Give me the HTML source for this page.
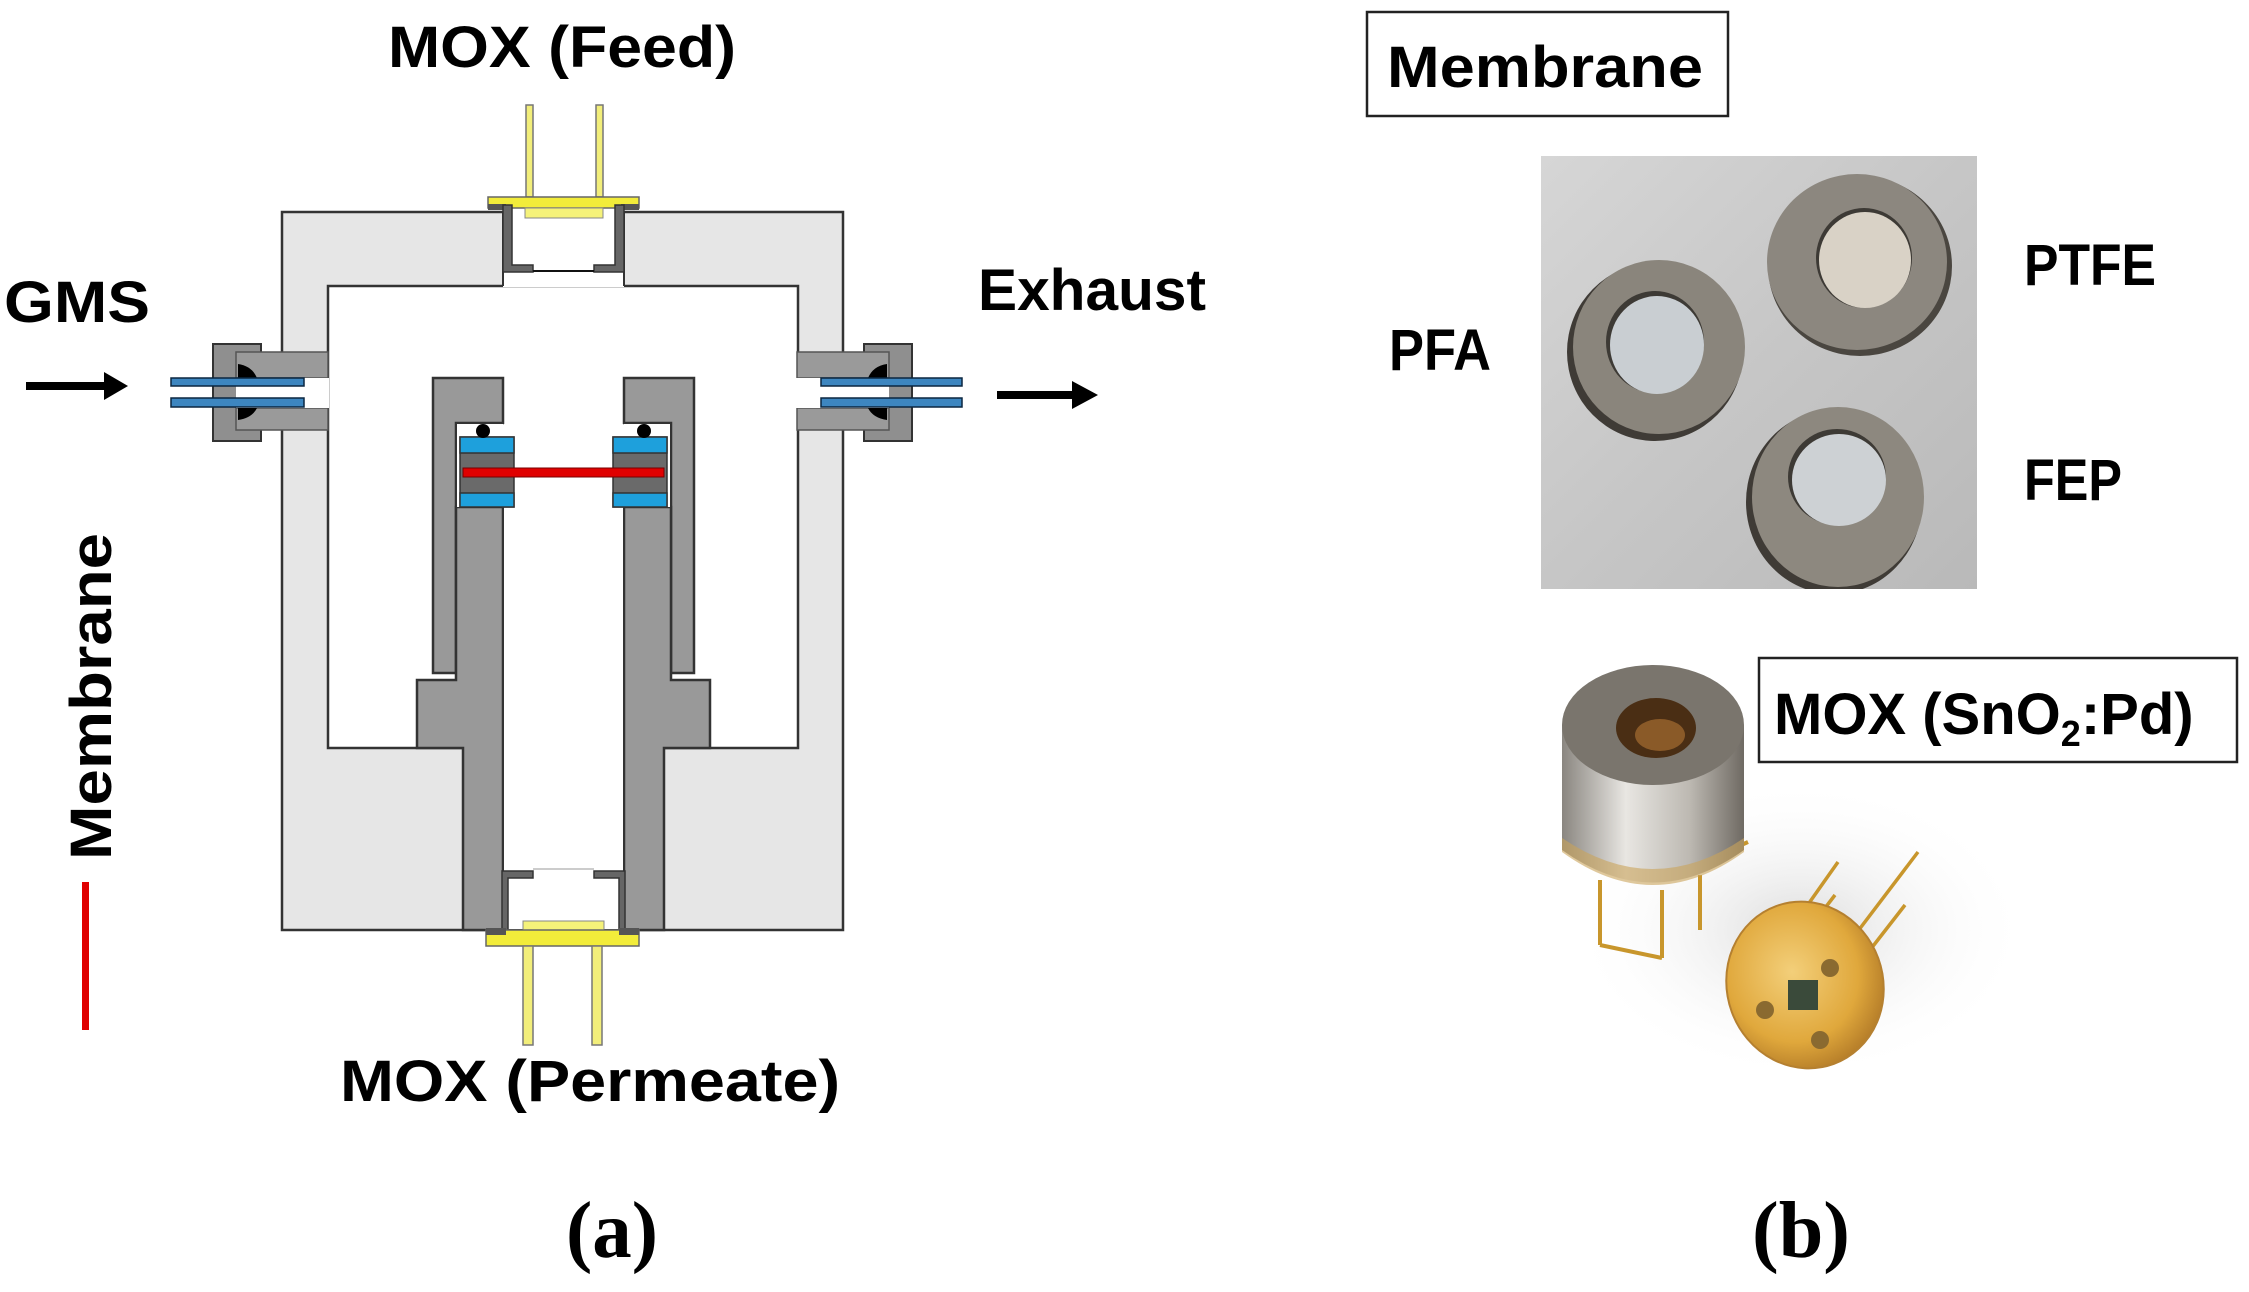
<!DOCTYPE html>
<html><head><meta charset="utf-8"><style>
html,body{margin:0;padding:0;background:#fff;}
svg{display:block;}
text{font-family:"Liberation Sans",sans-serif;font-weight:bold;fill:#000;}
.serif{font-family:"Liberation Serif",serif;}
</style></head><body>
<svg width="2249" height="1292" viewBox="0 0 2249 1292" xmlns="http://www.w3.org/2000/svg">
<defs>
<linearGradient id="photo" x1="0" y1="0" x2="1" y2="1">
<stop offset="0" stop-color="#d6d6d6"/><stop offset="0.5" stop-color="#c6c6c6"/><stop offset="1" stop-color="#b9b9b9"/>
</linearGradient>
<linearGradient id="can" x1="0" y1="0" x2="1" y2="0">
<stop offset="0" stop-color="#8a8680"/><stop offset="0.35" stop-color="#e8e6e2"/><stop offset="0.7" stop-color="#bdb9b2"/><stop offset="1" stop-color="#6f6a63"/>
</linearGradient>
<radialGradient id="gold" cx="0.45" cy="0.4" r="0.6">
<stop offset="0" stop-color="#f3cf7a"/><stop offset="0.7" stop-color="#e0a83c"/><stop offset="1" stop-color="#b8802a"/>
</radialGradient>
<radialGradient id="shadow" cx="0.5" cy="0.5" r="0.5">
<stop offset="0" stop-color="#dcdcdc"/><stop offset="1" stop-color="#ffffff" stop-opacity="0"/>
</radialGradient>
</defs>

<!-- ===== Panel (a) ===== -->
<rect x="282" y="212" width="561" height="718" fill="#e6e6e6" stroke="#333" stroke-width="2.5"/>
<rect x="328" y="286" width="470" height="462" fill="#fff" stroke="#333" stroke-width="2.5"/>
<rect x="503" y="205" width="121" height="82" fill="#fff"/>
<line x1="503" y1="212" x2="503" y2="286" stroke="#333" stroke-width="2"/>
<line x1="624" y1="212" x2="624" y2="286" stroke="#333" stroke-width="2"/>

<polygon points="433,378 503,378 503,423 456,423 456,673 433,673" fill="#999" stroke="#333" stroke-width="2.5"/>
<polygon points="456,507 503,507 503,930 463,930 463,748 417,748 417,680 456,680" fill="#999" stroke="#333" stroke-width="2.5"/>
<polygon points="694,378 624,378 624,423 671,423 671,673 694,673" fill="#999" stroke="#333" stroke-width="2.5"/>
<polygon points="671,507 624,507 624,930 664,930 664,748 710,748 710,680 671,680" fill="#999" stroke="#333" stroke-width="2.5"/>
<rect x="504" y="424" width="119" height="505" fill="#fff"/>
<rect x="457" y="424" width="46" height="83" fill="#fff"/>
<rect x="624" y="424" width="46" height="83" fill="#fff"/>

<g stroke="#333" stroke-width="1.5">
<rect x="460" y="437" width="54" height="70" fill="#6a6a6a"/>
<rect x="460" y="437" width="54" height="16" fill="#1ea0dc"/>
<rect x="460" y="493" width="54" height="14" fill="#1ea0dc"/>
<rect x="613" y="437" width="54" height="70" fill="#6a6a6a"/>
<rect x="613" y="437" width="54" height="16" fill="#1ea0dc"/>
<rect x="613" y="493" width="54" height="14" fill="#1ea0dc"/>
</g>
<rect x="463" y="468" width="201" height="9" fill="#e00000" stroke="#700" stroke-width="1"/>
<circle cx="483" cy="431" r="7" fill="#000"/>
<circle cx="644" cy="431" r="7" fill="#000"/>

<rect x="526" y="105" width="7" height="92" fill="#f2ee7a" stroke="#777" stroke-width="1.5"/>
<rect x="596" y="105" width="7" height="92" fill="#f2ee7a" stroke="#777" stroke-width="1.5"/>
<rect x="488" y="197" width="151" height="11" fill="#f2ec3a" stroke="#666" stroke-width="1.5"/>
<rect x="525" y="208" width="78" height="10" fill="#f5f27a" stroke="#888" stroke-width="1"/>
<rect x="488" y="204" width="18" height="6" fill="#555"/>
<rect x="621" y="204" width="18" height="6" fill="#555"/>
<path d="M503 205 V272 H533 V265 H512 V205 Z" fill="#666" stroke="#333" stroke-width="1.5"/>
<path d="M624 205 V272 H594 V265 H615 V205 Z" fill="#666" stroke="#333" stroke-width="1.5"/>
<line x1="533" y1="271" x2="594" y2="271" stroke="#111" stroke-width="2"/>

<path d="M502 871 V930 H508 V878 H533 V871 Z" fill="#666" stroke="#333" stroke-width="1.5"/>
<path d="M625 871 V930 H619 V878 H594 V871 Z" fill="#666" stroke="#333" stroke-width="1.5"/>
<line x1="533" y1="869" x2="594" y2="869" stroke="#ccc" stroke-width="2"/>
<rect x="523" y="921" width="81" height="9" fill="#f5f27a" stroke="#888" stroke-width="1"/>
<rect x="486" y="930" width="153" height="16" fill="#f2ec3a" stroke="#666" stroke-width="1.5"/>
<rect x="486" y="928" width="20" height="7" fill="#555"/>
<rect x="619" y="928" width="20" height="7" fill="#555"/>
<rect x="523" y="946" width="10" height="99" fill="#f2ee7a" stroke="#777" stroke-width="1.5"/>
<rect x="592" y="946" width="10" height="99" fill="#f2ee7a" stroke="#777" stroke-width="1.5"/>

<rect x="213" y="344" width="48" height="97" fill="#8f8f8f" stroke="#333" stroke-width="2"/>
<rect x="236" y="352" width="92" height="26" fill="#9a9a9a" stroke="#555" stroke-width="1.5"/>
<rect x="236" y="408" width="92" height="22" fill="#9a9a9a" stroke="#555" stroke-width="1.5"/>
<rect x="236" y="378" width="93" height="30" fill="#fff"/>
<path d="M238 364 Q252 366 257 378 H238 Z" fill="#000"/>
<path d="M238 420 Q252 418 257 408 H238 Z" fill="#000"/>
<rect x="171" y="378" width="133" height="8" fill="#3d86c0" stroke="#0b2740" stroke-width="1.5"/>
<rect x="171" y="398" width="133" height="9" fill="#3d86c0" stroke="#0b2740" stroke-width="1.5"/>
<rect x="864" y="344" width="48" height="97" fill="#8f8f8f" stroke="#333" stroke-width="2"/>
<rect x="797" y="352" width="92" height="26" fill="#9a9a9a" stroke="#555" stroke-width="1.5"/>
<rect x="797" y="408" width="92" height="22" fill="#9a9a9a" stroke="#555" stroke-width="1.5"/>
<rect x="796" y="378" width="93" height="30" fill="#fff"/>
<path d="M887 364 Q873 366 868 378 H887 Z" fill="#000"/>
<path d="M887 420 Q873 418 868 408 H887 Z" fill="#000"/>
<rect x="821" y="378" width="141" height="8" fill="#3d86c0" stroke="#0b2740" stroke-width="1.5"/>
<rect x="821" y="398" width="141" height="9" fill="#3d86c0" stroke="#0b2740" stroke-width="1.5"/>

<rect x="26" y="382" width="84" height="8" fill="#000"/>
<polygon points="104,372 128,386 104,400" fill="#000"/>
<rect x="997" y="391" width="80" height="8" fill="#000"/>
<polygon points="1072,381 1098,395 1072,409" fill="#000"/>

<rect x="82" y="882" width="7" height="148" fill="#e00000"/>
<text x="0" y="0" font-size="58" transform="translate(111,860) rotate(-90)" textLength="327" lengthAdjust="spacingAndGlyphs">Membrane</text>

<text x="388" y="67" font-size="58" textLength="348" lengthAdjust="spacingAndGlyphs">MOX (Feed)</text>
<text x="4" y="322" font-size="58" textLength="146" lengthAdjust="spacingAndGlyphs">GMS</text>
<text x="978" y="310" font-size="58" textLength="228" lengthAdjust="spacingAndGlyphs">Exhaust</text>
<text x="340" y="1101" font-size="58" textLength="500" lengthAdjust="spacingAndGlyphs">MOX (Permeate)</text>
<text class="serif" x="566" y="1257" font-size="80" textLength="92" lengthAdjust="spacingAndGlyphs">(a)</text>

<!-- ===== Panel (b) ===== -->
<rect x="1367" y="12" width="361" height="104" fill="#fff" stroke="#222" stroke-width="2.5"/>
<text x="1387" y="87" font-size="58" textLength="316" lengthAdjust="spacingAndGlyphs">Membrane</text>

<rect x="1541" y="156" width="436" height="433" fill="url(#photo)"/>
<ellipse cx="1860" cy="266" rx="92" ry="90" fill="#4a4640"/>
<ellipse cx="1857" cy="262" rx="90" ry="88" fill="#8c877f"/>
<ellipse cx="1864" cy="258" rx="48" ry="50" fill="#3d3a35"/>
<ellipse cx="1865" cy="260" rx="46" ry="48" fill="#d9d2c6"/>
<ellipse cx="1655" cy="352" rx="88" ry="89" fill="#3f3b36"/>
<ellipse cx="1659" cy="347" rx="86" ry="87" fill="#8a857c"/>
<ellipse cx="1655" cy="342" rx="49" ry="51" fill="#3d3a35"/>
<ellipse cx="1657" cy="345" rx="47" ry="49" fill="#c9ced2"/>
<ellipse cx="1834" cy="502" rx="88" ry="92" fill="#3f3b36"/>
<ellipse cx="1838" cy="497" rx="86" ry="90" fill="#8d887f"/>
<ellipse cx="1837" cy="477" rx="49" ry="48" fill="#3d3a35"/>
<ellipse cx="1839" cy="480" rx="47" ry="46" fill="#cdd1d4"/>
<rect x="1541" y="589" width="440" height="20" fill="#fff"/>

<text x="1389" y="370" font-size="58" textLength="102" lengthAdjust="spacingAndGlyphs">PFA</text>
<text x="2024" y="285" font-size="58" textLength="132" lengthAdjust="spacingAndGlyphs">PTFE</text>
<text x="2024" y="500" font-size="58" textLength="98" lengthAdjust="spacingAndGlyphs">FEP</text>

<rect x="1759" y="658" width="478" height="104" fill="#fff" stroke="#222" stroke-width="2.5"/>
<text x="1774" y="734" font-size="58">MOX (SnO<tspan font-size="36" dy="12">2</tspan><tspan dy="-12">:Pd)</tspan></text>

<!-- sensors -->
<ellipse cx="1800" cy="930" rx="230" ry="150" fill="url(#shadow)"/>
<g stroke="#c8962c" stroke-width="4" fill="none">
<line x1="1600" y1="880" x2="1600" y2="945"/>
<line x1="1662" y1="890" x2="1662" y2="958"/>
<line x1="1700" y1="875" x2="1700" y2="930"/>
<line x1="1600" y1="945" x2="1662" y2="958"/>
<line x1="1730" y1="850" x2="1748" y2="842"/>
</g>
<g stroke="#c8962c" stroke-width="3.5" fill="none">
<line x1="1790" y1="930" x2="1838" y2="862"/>
<line x1="1812" y1="925" x2="1835" y2="895"/>
<line x1="1855" y1="935" x2="1918" y2="852"/>
<line x1="1870" y1="950" x2="1905" y2="905"/>
</g>
<path d="M1562 725 V850 Q1653 915 1744 850 V725 Z" fill="url(#can)"/>
<path d="M1562 838 Q1653 900 1744 838 V852 Q1653 918 1562 852 Z" fill="#c9a45a" opacity="0.6"/>
<ellipse cx="1653" cy="725" rx="91" ry="60" fill="#7a756d"/>
<ellipse cx="1656" cy="728" rx="40" ry="30" fill="#4a2e14"/>
<ellipse cx="1660" cy="735" rx="25" ry="16" fill="#8a5a28"/>
<ellipse cx="1805" cy="985" rx="78" ry="84" transform="rotate(-20 1805 985)" fill="url(#gold)" stroke="#b58030" stroke-width="2"/>
<rect x="1788" y="980" width="30" height="30" fill="#3a4a3a"/>
<circle cx="1765" cy="1010" r="9" fill="#8a6a30"/>
<circle cx="1830" cy="968" r="9" fill="#8a6a30"/>
<circle cx="1820" cy="1040" r="9" fill="#8a6a30"/>

<text class="serif" x="1752" y="1257" font-size="80" textLength="98" lengthAdjust="spacingAndGlyphs">(b)</text>
</svg>
</body></html>
